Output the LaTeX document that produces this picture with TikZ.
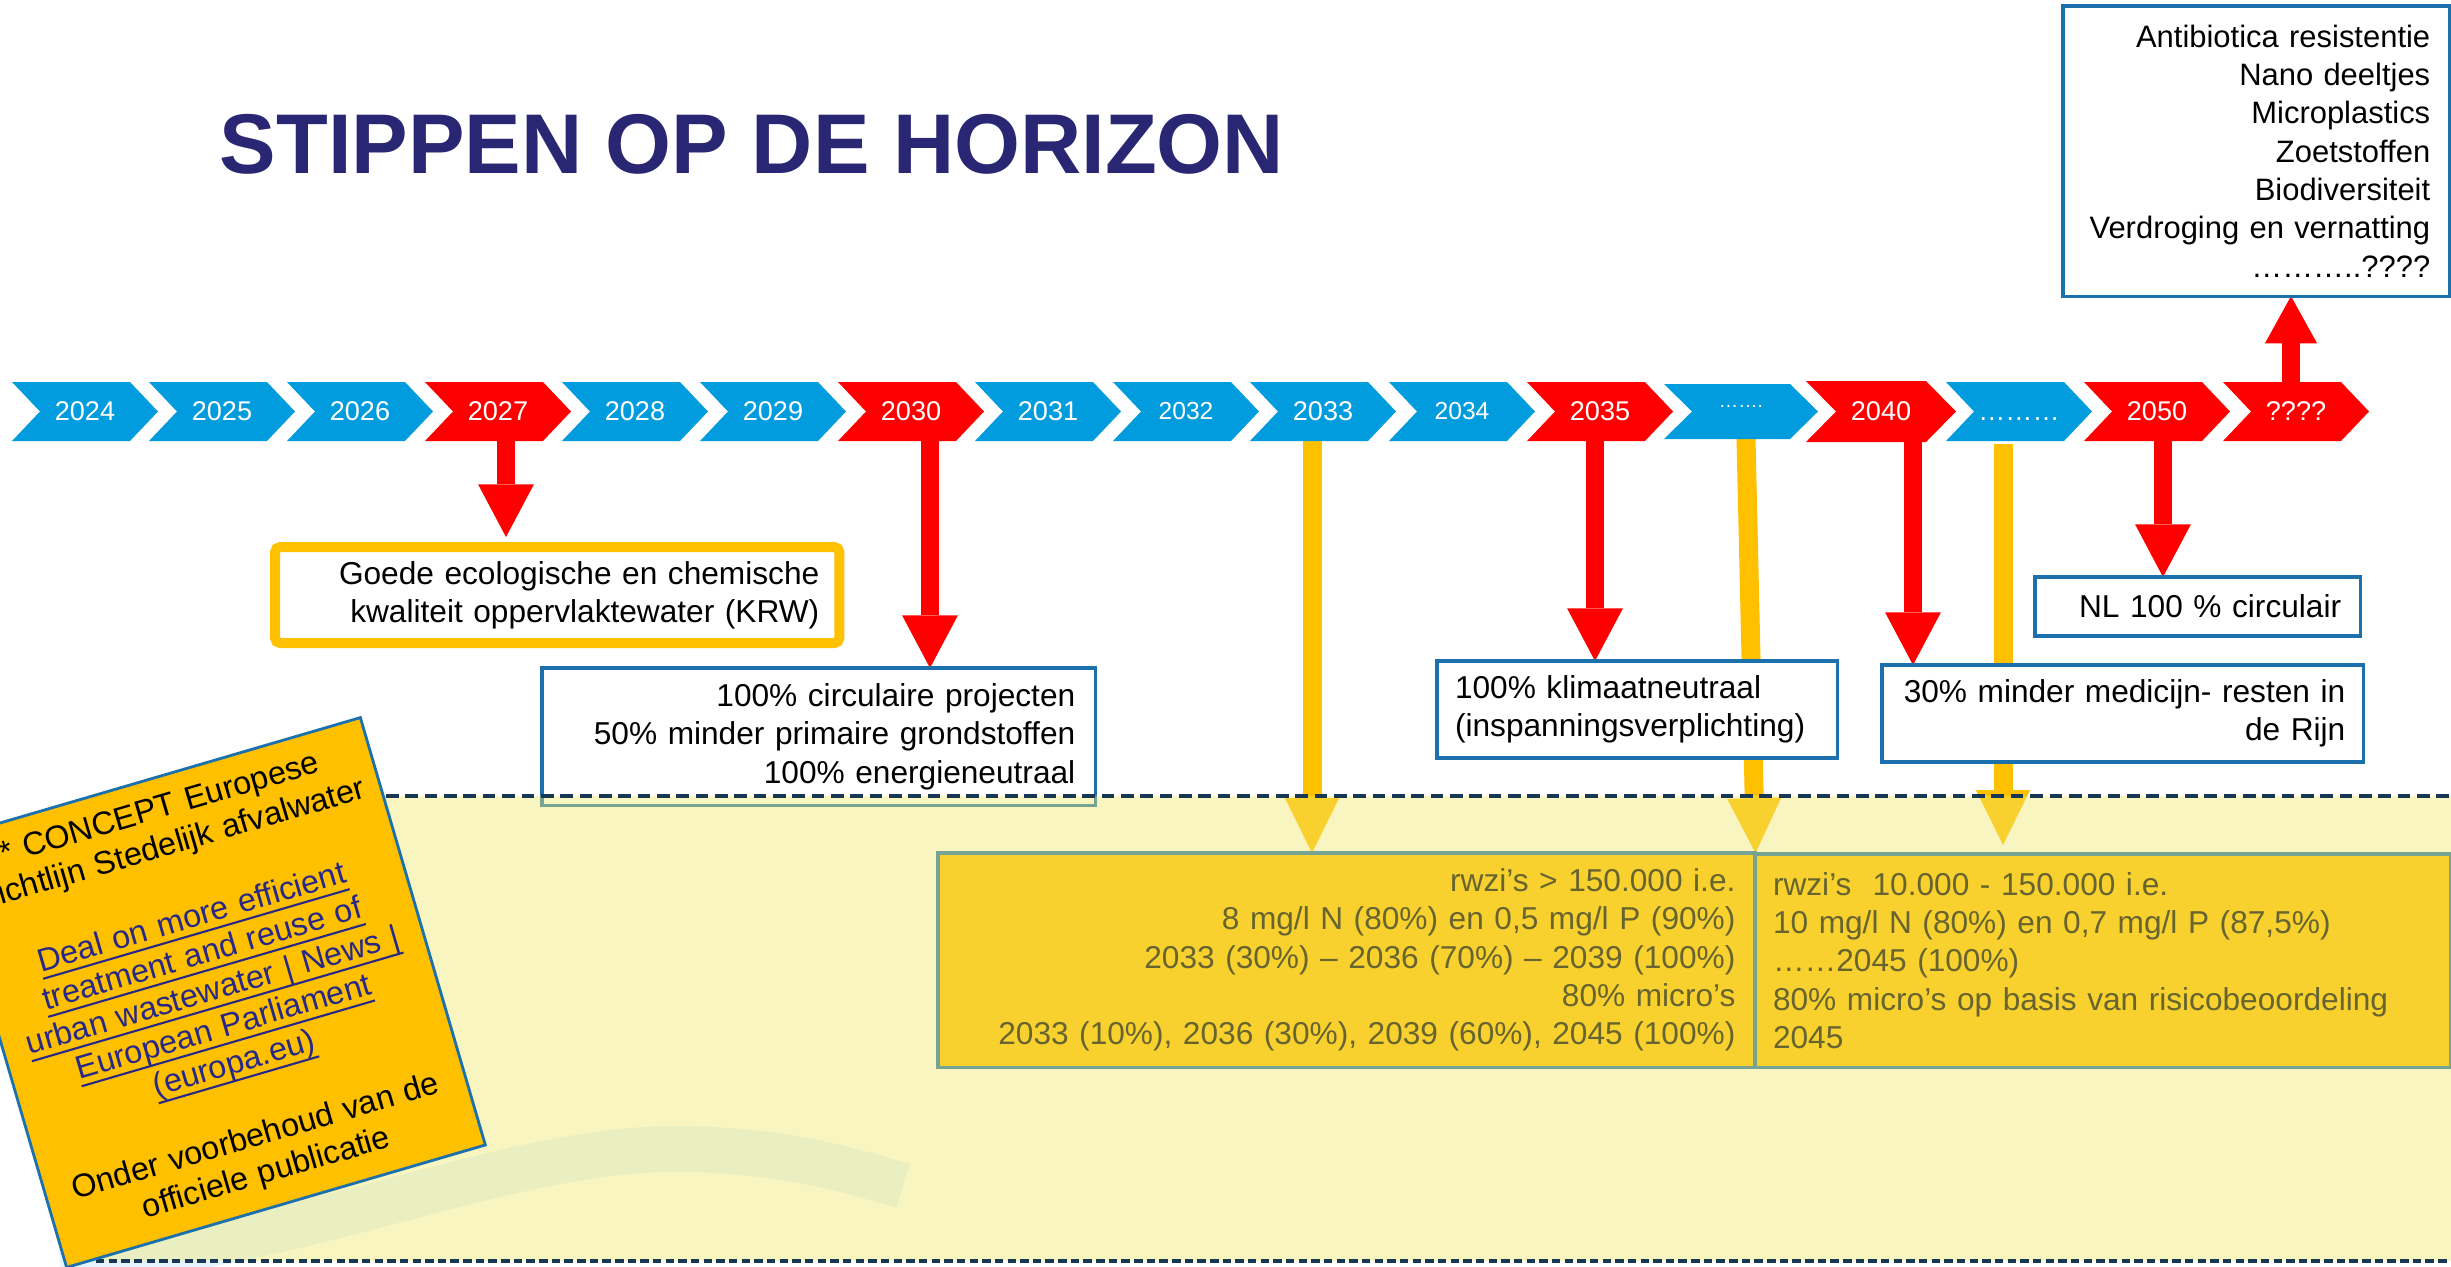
\documentclass[tikz,border=0pt]{standalone}
\usepackage{fontspec}
\setmainfont{Liberation Sans}
\usetikzlibrary{arrows.meta}
\definecolor{chevblue}{RGB}{0,156,222}
\definecolor{chevred}{RGB}{255,0,0}
\definecolor{gold}{RGB}{255,192,0}
\definecolor{boxblue}{RGB}{28,113,173}
\definecolor{titlenavy}{RGB}{41,38,115}
\definecolor{linkblue}{RGB}{40,40,135}
\definecolor{dashnavy}{RGB}{23,55,85}
\definecolor{ovcol}{RGB}{239,233,111}
\definecolor{swooshcol}{RGB}{230,244,255}
\pgfdeclarelayer{arrowlayer}
\pgfdeclarelayer{overlaylayer}
\pgfdeclarelayer{toplayer}
\pgfsetlayers{arrowlayer,main,overlaylayer,toplayer}
\newcommand\mychev[8]{%
  \fill[#7] (#2,#3) -- ({#2+#5},#3) -- ({#2+#5+#6},{(#3+#4)/2}) -- ({#2+#5},#4) -- (#2,#4) -- ({#2+#6},{(#3+#4)/2}) -- cycle;
  \node[yearlbl] (#1) at ({#2+(#5+#6)/2},{(#3+#4)/2}) {#8};%
}
\newcommand\myul[1]{\leavevmode\setbox0\hbox{#1}\rlap{\rule[-2.3pt]{\wd0}{0.6pt}}\box0}
\begin{document}
\begin{tikzpicture}[x=0.01cm,y=-0.01cm,
  yearlbl/.style={text=white, font=\fontsize{7.7}{9}\selectfont, inner sep=0pt},
  wbox/.style={draw=boxblue, line width=0.9pt, fill=white, font=\fontsize{9}{10.9}\selectfont, inner ysep=0pt, outer sep=0pt, anchor=north west},
  ybox/.style={draw=boxblue, line width=0.9pt, fill=gold, font=\fontsize{9}{10.9}\selectfont, inner ysep=0pt, outer sep=0pt, anchor=north west},
  redarr/.style={draw=chevred, line width=5.12pt, -{Triangle[width=15.9pt,length=15pt,line width=0pt]}},
  goldarr/.style={draw=gold, line width=5.4pt, -{Triangle[width=15.4pt,length=15.6pt,line width=0pt]}}]
\useasboundingbox (0,0) rectangle (2451,1266);

% title
\node[anchor=base west, inner sep=0pt, text=titlenavy, font=\fontsize{24.1}{29}\selectfont\bfseries] (title) at (219,173) {STIPPEN OP DE HORIZON};

% timeline
\mychev{y2024}{12}{382}{441}{118}{28}{chevblue}{2024}
\mychev{y2025}{149}{382}{441}{118}{28}{chevblue}{2025}
\mychev{y2026}{287}{382}{441}{118}{28}{chevblue}{2026}
\mychev{y2027}{425}{382}{441}{118}{28}{chevred}{2027}
\mychev{y2028}{562}{382}{441}{118}{28}{chevblue}{2028}
\mychev{y2029}{700}{382}{441}{118}{28}{chevblue}{2029}
\mychev{y2030}{838}{382}{441}{118}{28}{chevred}{2030}
\mychev{y2031}{975}{382}{441}{118}{28}{chevblue}{2031}
\mychev{y2032}{1113}{382}{441}{118}{28}{chevblue}{\fontsize{7}{8}\selectfont 2032}
\mychev{y2033}{1250}{382}{441}{118}{28}{chevblue}{2033}
\mychev{y2034}{1389}{382}{441}{118}{28}{chevblue}{\fontsize{7}{8}\selectfont 2034}
\mychev{y2035}{1527}{382}{441}{118}{28}{chevred}{2035}
\mychev{ydotsa}{1664}{384}{439}{126}{28}{chevblue}{\raisebox{3pt}{\fontsize{5.5}{6}\selectfont …….}}
\mychev{y2040}{1806}{381}{442}{120}{30}{chevred}{2040}
\mychev{ydotsb}{1946}{382}{441}{118}{28}{chevblue}{\vphantom{0}………}
\mychev{y2050}{2084}{382}{441}{118}{28}{chevred}{2050}
\mychev{yqq}{2223}{382}{441}{118}{28}{chevred}{????}

% boxes
\node[wbox, minimum width=3.86cm, minimum height=2.90cm, text width=3.48cm, inner xsep=0.19cm, align=right, font=\fontsize{8.8}{10.9}\selectfont] (tr) at (2063,6)
  {Antibiotica resistentie\\Nano deeltjes\\Microplastics\\Zoetstoffen\\Biodiversiteit\\Verdroging en vernatting\\………..????};
\node[draw=gold, line width=2.85pt, rounded corners=1.5pt, fill=white, font=\fontsize{9}{10.9}\selectfont, inner ysep=0pt, outer sep=0pt, anchor=north west,
  minimum width=5.64cm, minimum height=0.96cm, text width=5.24cm, inner xsep=0.2cm, align=right] (goede) at (275,547)
  {Goede ecologische en chemische\\kwaliteit oppervlaktewater (KRW)};
\node[wbox, minimum width=5.53cm, minimum height=1.37cm, text width=5.13cm, inner xsep=0.2cm, align=right] (circ) at (542,668)
  {100\% circulaire projecten\\50\% minder primaire grondstoffen\\100\% energieneutraal};
\node[wbox, minimum width=4.00cm, minimum height=0.97cm, text width=3.64cm, inner xsep=0.18cm, align=left] (klim) at (1437,661)
  {100\% klimaatneutraal\\(inspanningsverplichting)};
\node[wbox, minimum width=4.81cm, minimum height=0.97cm, text width=4.45cm, inner xsep=0.18cm, align=right] (medi) at (1882,665)
  {30\% minder medicijn- resten in\\de Rijn};
\node[wbox, minimum width=3.25cm, minimum height=0.59cm, text width=2.87cm, inner xsep=0.19cm, align=right] (nl) at (2035,577)
  {NL 100 \% circulair};
\node[ybox, minimum width=8.17cm, minimum height=2.14cm, text width=7.77cm, inner xsep=0.2cm, align=right] (rwziL) at (938,853)
  {rwzi’s > 150.000 i.e.\\8 mg/l N (80\%) en 0,5 mg/l P (90\%)\\2033 (30\%) – 2036 (70\%) – 2039 (100\%)\\80\% micro’s\\2033 (10\%), 2036 (30\%), 2039 (60\%), 2045 (100\%)};
\node[ybox, minimum width=6.95cm, minimum height=2.13cm, text width=6.59cm, inner xsep=0.18cm, align=left] (rwziR) at (1755,854)
  {rwzi’s~ 10.000 - 150.000 i.e.\\10 mg/l N (80\%) en 0,7 mg/l P (87,5\%)\\……2045 (100\%)\\80\% micro’s op basis van risicobeoordeling\\2045};

% swoosh
\draw[swooshcol, line width=13pt] (60,1262) .. controls (300,1250) and (500,1149) .. (675,1149) .. controls (780,1149) and (850,1170) .. (903,1186);

% arrows
\coordinate (s27) at (506,441);
\coordinate (s30) at (930,441);
\coordinate (s33) at (1312,441);
\coordinate (s35) at (1595,441);
\coordinate (s37) at (1746,439);
\coordinate (s40) at (1913,442);
\coordinate (s45) at (2003,444);
\coordinate (s50) at (2163,441);
\coordinate (s99) at (2291,382);
\begin{pgfonlayer}{arrowlayer}
\fill[white] (0,0) rectangle (2451,1266);
\draw[redarr, shorten >=0.1cm] (s27) -- (s27 |- goede.north);
\draw[redarr] (s30) -- (s30 |- circ.north);
\draw[redarr] (s35) -- (s35 |- klim.north);
\draw[redarr] (s40) -- (s40 |- medi.north);
\draw[redarr] (s50) -- (s50 |- nl.north);
\draw[redarr, -{Triangle[width=14.8pt,length=13.4pt,line width=0pt]}] (s99) -- (s99 |- tr.south);
\draw[goldarr] (s33) -- (s33 |- rwziL.north);
\draw[goldarr] (s37) -- (rwziL.north east);
\draw[goldarr, shorten >=0.09cm] (s45) -- (s45 |- rwziR.north);
\end{pgfonlayer}

% overlay band
\begin{pgfonlayer}{overlaylayer}
\fill[ovcol, fill opacity=0.43] (96,796) rectangle (2451,1261);
\draw[dashnavy, line width=1pt, dash pattern=on 3.6pt off 1.9pt] (96,796) -- (2451,796);
\draw[dashnavy, line width=1.3pt, dash pattern=on 2.4pt off 1.2pt] (96,1261) -- (2451,1261);
\end{pgfonlayer}

% rotated note
\begin{pgfonlayer}{toplayer}
\node[draw=boxblue, line width=0.8pt, fill=gold, rotate=16.3, minimum width=4.36cm, minimum height=4.45cm, text width=4.2cm, inner xsep=0.08cm, align=center, font=\fontsize{9.2}{10.8}\selectfont] (concept) at (213.5,992.5)
  {* CONCEPT Europese\\Richtlijn Stedelijk afvalwater\\[10.8pt]
   \textcolor{linkblue}{\myul{Deal on more efficient}}\\
   \textcolor{linkblue}{\myul{treatment and reuse of}}\\
   \textcolor{linkblue}{\myul{urban wastewater | News |}}\\
   \textcolor{linkblue}{\myul{European Parliament}}\\
   \textcolor{linkblue}{\myul{(europa.eu)}}\\[10.8pt]
   Onder voorbehoud van de\\officiele publicatie};
\end{pgfonlayer}
\end{tikzpicture}
\end{document}
